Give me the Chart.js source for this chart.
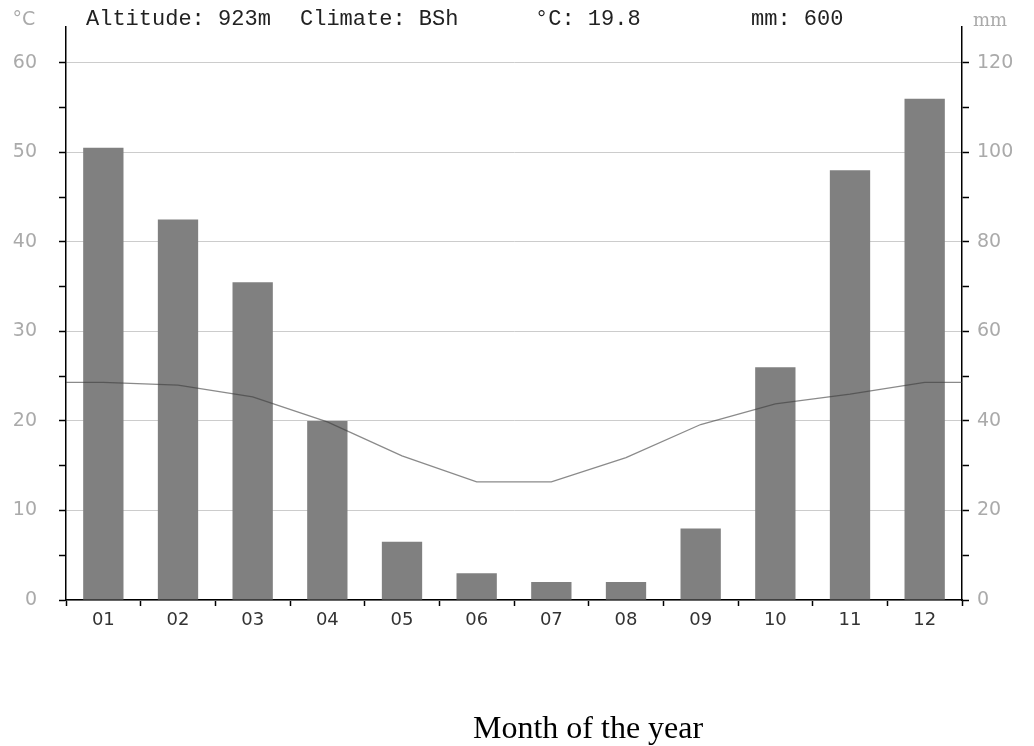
<!DOCTYPE html>
<html>
<head>
<meta charset="utf-8">
<script src="https://cdn.jsdelivr.net/npm/chart.js@4"></script>
<style>
  html, body { margin: 0; padding: 0; background: #fff; }
  canvas { display: block; }
</style>
</head>
<body>
<canvas id="climateChart" width="1034" height="746"></canvas>
<script>
// climate diagram - data
var months = ['01', '02', '03', '04', '05', '06', '07', '08', '09', '10', '11', '12'];
var precipitation = [101, 85, 71, 40, 13, 6, 4, 4, 16, 52, 96, 112]; // mm
var temperature = [24.3, 24.0, 22.7, 19.9, 16.1, 13.2, 13.2, 15.9, 19.6, 21.9, 23.0, 24.3]; // °C
var headerItems = ['Altitude: 923m', 'Climate: BSh', '°C: 19.8', 'mm: 600'];

// line runs edge to edge, ends at the dec/jan mean
var edgeTemp = (temperature[0] + temperature[11]) / 2;
var tempPoints = [{ x: 0, y: edgeTemp }];
temperature.forEach(function (t, i) {
    tempPoints.push({ x: i + 0.5, y: t });
});
tempPoints.push({ x: 12, y: edgeTemp });

var textPlugin = {
    id: 'climateText',
    afterDraw: function (chart) {
        var ctx = chart.ctx;
        ctx.save();
        ctx.textBaseline = 'alphabetic';

        // header line
        ctx.fillStyle = '#222';
        ctx.font = '22px "Liberation Mono", monospace';
        ctx.textAlign = 'left';
        var headerX = [86, 300, 535, 751];
        headerItems.forEach(function (t, i) {
            ctx.fillText(t, headerX[i], 25);
        });

        // unit labels
        ctx.fillStyle = '#aaa';
        ctx.font = '19px "DejaVu Sans", sans-serif';
        ctx.textAlign = 'center';
        ctx.fillText('°C', 24, 25);
        ctx.font = '18px "DejaVu Serif", serif';
        ctx.fillText('mm', 990, 26);

        // bottom title
        ctx.fillStyle = '#000';
        ctx.font = '32px "Liberation Serif", serif';
        ctx.textAlign = 'left';
        ctx.fillText('Month of the year', 473, 738);
        ctx.restore();
    }
};

function fitSide(width) {
    return function (scale) {
        scale.width = width;
        scale.paddingTop = 0;
        scale.paddingBottom = 0;
    };
}

var ctx = document.getElementById('climateChart').getContext('2d');
var climateChart = new Chart(ctx, {
    type: 'bar',
    data: {
        labels: months,
        datasets: [{
            type: 'line',
            label: 'Temperature',
            data: tempPoints,
            xAxisID: 'xl',
            yAxisID: 'y',
            borderColor: 'rgba(60, 60, 60, 0.6)',
            borderWidth: 1.3,
            pointRadius: 0,
            tension: 0,
            fill: false,
            order: 0
        }, {
            type: 'bar',
            label: 'Precipitation',
            data: precipitation,
            xAxisID: 'x',
            yAxisID: 'y2',
            backgroundColor: '#808080',
            barPercentage: 0.54,
            categoryPercentage: 1,
            grouped: false,
            order: 1
        }]
    },
    options: {
        responsive: false,
        devicePixelRatio: 1,
        animation: false,
        layout: { padding: { top: 27, left: 0, right: 0, bottom: 0 } },
        plugins: {
            legend: { display: false },
            tooltip: { enabled: false },
            title: { display: false }
        },
        scales: {
            x: {
                type: 'category',
                offset: true,
                grid: {
                    offset: true,
                    drawOnChartArea: false,
                    drawTicks: true,
                    tickLength: 6,
                    tickColor: '#000',
                    tickWidth: 1.5
                },
                border: { color: '#000', width: 1.5 },
                ticks: {
                    color: '#333',
                    font: { family: '"DejaVu Sans", sans-serif', size: 18 },
                    padding: 4,
                    maxRotation: 0
                },
                afterFit: function (scale) { scale.height = 146; }
            },
            xl: {
                type: 'linear',
                position: 'bottom',
                min: 0,
                max: 12,
                offset: false,
                ticks: { display: false },
                grid: { display: false, drawTicks: false },
                border: { display: false },
                afterFit: function (scale) { scale.height = 0; }
            },
            y: {
                position: 'left',
                min: 0,
                max: 64,
                ticks: {
                    stepSize: 5,
                    includeBounds: false,
                    color: '#aaa',
                    font: { family: '"DejaVu Sans", sans-serif', size: 19 },
                    padding: 22,
                    callback: function (v) { return v % 10 === 0 ? v : ''; }
                },
                grid: {
                    color: function (c) {
                        return c.tick && c.tick.value % 10 === 0 ? '#ccc' : 'rgba(0,0,0,0)';
                    },
                    lineWidth: 1,
                    tickColor: '#000',
                    tickLength: 7,
                    tickWidth: 1.5
                },
                border: { color: '#000', width: 1.5 },
                afterFit: fitSide(66)
            },
            y2: {
                position: 'right',
                min: 0,
                max: 128,
                ticks: {
                    stepSize: 10,
                    includeBounds: false,
                    color: '#aaa',
                    font: { family: '"DejaVu Sans", sans-serif', size: 19 },
                    padding: 8,
                    callback: function (v) { return v % 20 === 0 ? v : ''; }
                },
                grid: {
                    drawOnChartArea: false,
                    tickColor: '#000',
                    tickLength: 7,
                    tickWidth: 1.5
                },
                border: { color: '#000', width: 1.5 },
                afterFit: fitSide(72)
            }
        }
    },
    plugins: [textPlugin]
});
</script>
</body>
</html>
